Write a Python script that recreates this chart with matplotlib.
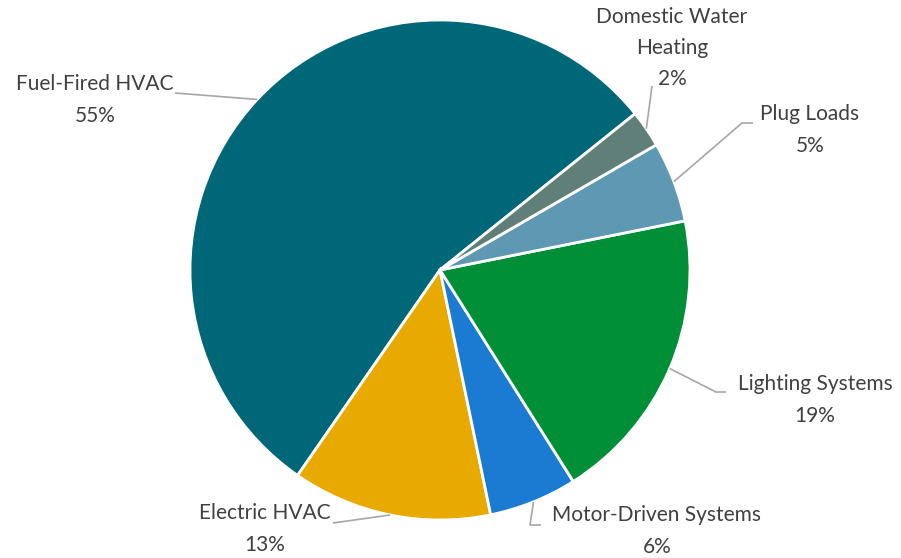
import matplotlib.pyplot as plt
import numpy as np

# data (counterclockwise from the top-right boundary)
categories = ["Fuel-Fired HVAC", "Electric HVAC", "Motor-Driven Systems",
              "Lighting Systems", "Plug Loads", "Domestic Water\nHeating"]
shares = [54.6, 12.9, 5.7, 19.2, 5.2, 2.4]
pct_labels = ["55%", "13%", "6%", "19%", "5%", "2%"]
colors = ["#006778", "#E8A900", "#1B7BD2", "#008F36", "#5E98B3", "#5F7F78"]

W, H = 901, 558
fig = plt.figure(figsize=(W / 100, H / 100), dpi=100)
ax = fig.add_axes([0, 0, 1, 1])

cx, cy, r = 440, H - 270, 250
wedges, _ = ax.pie(shares, colors=colors, startangle=38.7, counterclock=True,
                   center=(cx, cy), radius=r, frame=True,
                   wedgeprops=dict(edgecolor="white", linewidth=2))
ax.set_xlim(0, W)
ax.set_ylim(0, H)
ax.set_aspect("equal")
ax.axis("off")

# label layout: text center (pixel coords), elbow point, optional end point
text_pos = [(95, 100), (265, 529), (657, 531), (815, 400), (810, 130), (672, 48)]
elbows = [(175, 93), (333, 523), (530, 525), (716, 392), (742, 123), (652, 86)]
ends = [None, None, (541, 525), (726, 392), (753, 123), None]

for w, cat, pct, tp, el, en in zip(wedges, categories, pct_labels, text_pos, elbows, ends):
    ang = np.deg2rad((w.theta1 + w.theta2) / 2)
    ex, ey = cx + r * np.cos(ang), cy + r * np.sin(ang)
    xs = [ex, el[0]]
    ys = [ey, H - el[1]]
    if en is not None:
        xs.append(en[0])
        ys.append(H - en[1])
    ax.plot(xs, ys, color="#A6A6A6", lw=1.2, solid_capstyle="butt")
    ax.text(tp[0], H - tp[1], cat + "\n" + pct, ha="center", va="center",
            fontsize=15, color="#404040", family="Lato", linespacing=1.7)

fig.savefig("out.png", dpi=100)
